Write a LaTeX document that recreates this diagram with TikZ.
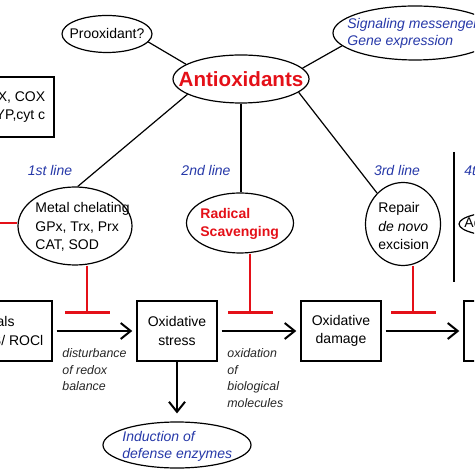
\documentclass[tikz,border=0pt]{standalone}
\usepackage{fontspec}
\setmainfont{Liberation Sans}
\usepackage{tikz}
\usetikzlibrary{arrows.meta, shapes.geometric}
\definecolor{aoxred}{RGB}{228,16,24}
\definecolor{aoxblue}{RGB}{38,56,168}

\begin{document}
\begin{tikzpicture}[x=0.5pt, y=-0.5pt,
  oval/.style={ellipse, draw, line width=0.6pt, inner sep=0pt},
  box/.style={draw, line width=0.7pt, minimum width=40pt, minimum height=30pt,
    inner sep=0pt, align=center, font=\fontsize{7}{9.3}\selectfont},
  txt/.style={inner sep=0pt, align=left, font=\fontsize{7}{9.3}\selectfont},
  bluetxt/.style={txt, text=aoxblue, font=\fontsize{7}{8.6}\selectfont\itshape},
  lvl/.style={inner sep=0pt, text=aoxblue, font=\fontsize{7}{9}\selectfont\itshape},
  note/.style={inner sep=0pt, align=left, anchor=north west, text=black!85,
    font=\fontsize{6.2}{8.4}\selectfont\itshape},
  link/.style={line width=0.6pt},
  arr/.style={-{Straight Barb[length=5pt, width=8pt]}, line width=1pt,
    shorten <=2pt, shorten >=2pt},
  inhib/.style={-{Bar[width=22.5pt]}, draw=aoxred, line width=1.4pt}
]
\useasboundingbox (0,0) rectangle (474,474);
\clip (0,0) rectangle (474,474);

% top row
\node[oval, minimum width=45pt, minimum height=18.5pt] (proox) at (107,34) {};
\node[txt] (proox-t) at (proox) {Prooxidant?};
\node[oval, minimum width=68pt, minimum height=24pt] (anti) at (241,79) {};
\node[inner sep=0pt, text=aoxred, font=\fontsize{10.3}{12}\selectfont\bfseries]
  (anti-t) at (anti) {Antioxidants};
\node[oval, minimum width=82pt, minimum height=27pt] (signal) at (415,33) {};
\node[bluetxt, anchor=west] (signal-t) at (347,33) {Signaling messenger\\Gene expression};
\node[box, minimum width=57pt, align=right] (source) at (-3,107) {XO, NOX, COX\\LOX, CYP,cyt c};

% lines of defense
\node[lvl] (first)  at (50,171)  {1st line};
\node[lvl] (second) at (206,171) {2nd line};
\node[lvl] (third)  at (397,171) {3rd line};
\node[lvl, anchor=west] (fourth) at (464,171) {4th line};

\node[oval, minimum width=57pt, minimum height=39pt] (metal) at (75,226) {};
\node[txt, anchor=west] (metal-t) at (35,227) {Metal chelating\\GPx, Trx, Prx\\CAT, SOD};
\node[oval, minimum width=53.5pt, minimum height=30pt] (radical) at (240,223) {};
\node[txt, anchor=west, text=aoxred, font=\fontsize{7}{9.3}\selectfont\bfseries]
  (radical-t) at (200,224) {Radical\\Scavenging};
\node[oval, minimum width=37.5pt, minimum height=41.5pt] (repair) at (403,224) {};
\node[txt, anchor=west] (repair-t) at (378,226) {Repair\\\textit{de novo}\\excision};
\node[oval, minimum width=51pt, minimum height=13pt] (adapt) at (510,224) {};
\node[txt, anchor=west] (adapt-t) at (464,224) {Adaptation};

\coordinate (sep-top) at (454,152);
\coordinate (sep-bot) at (454,282);
\draw[link] (sep-top) -- (sep-bot);

\draw[link] (proox.-11) -- (anti.165);
\draw[link] (anti.10) -- (signal.190);
\draw[link] (anti.196) -- (metal.86);
\draw[link] (anti.south) -- (anti.south |- radical.north);
\draw[link] (anti.-13) -- (repair.130);

% bottom row
\node[box, minimum width=63.5pt, align=left] (radicals) at (-11.5,331) {Free radicals\\ROS/ RNS/ ROCl};
\node[box] (stress) at (177,331) {Oxidative\\stress};
\node[box] (damage) at (341,331) {Oxidative\\damage};
\node[box] (outcome) at (504,331) {};
\node[oval, minimum width=74pt, minimum height=23pt] (induct) at (177,445) {};
\node[bluetxt, anchor=west] (induct-t) at (122,446) {Induction of\\defense enzymes};

\draw[arr] (radicals) -- (stress);
\draw[arr] (stress) -- (damage);
\draw[arr] (damage) -- (outcome);
\draw[arr, shorten <=0pt, shorten >=4pt] (stress) -- (induct);

\node[note] (redox) at (62,348) {disturbance\\of redox\\balance};
\node[note] (biomol) at (227,348) {oxidation\\of\\biological\\molecules};

% inhibition
\coordinate (lft) at (-20,223);
\coordinate (bar1) at (87,314);
\coordinate (bar2) at (250,314);
\coordinate (bar3) at (413,314);
\draw[aoxred, line width=1.4pt] (lft) -- (lft -| metal.west);
\draw[inhib] (metal.south -| bar1) -- (bar1);
\draw[inhib] (radical.south -| bar2) -- (bar2);
\draw[inhib] (repair.south -| bar3) -- (bar3);
\end{tikzpicture}
\end{document}
